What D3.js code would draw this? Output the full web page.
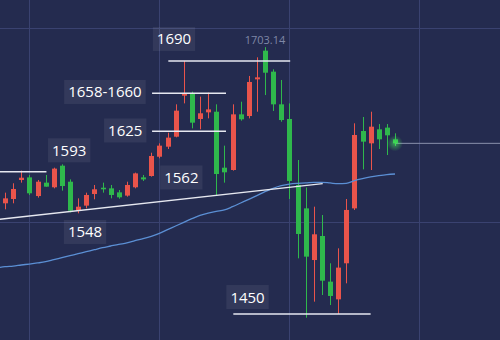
<!DOCTYPE html>
<html>

<head>
    <meta charset="utf-8">
    <style>
        html,
        body {
            margin: 0;
            padding: 0;
            background-color: #242b4f;
        }

        svg {
            display: block;
        }

        .label {
            font-family: 'Open Sans', 'Noto Sans', sans-serif;
            font-size: 15px;
            fill: #ffffff;
        }

        .peak {
            font-family: 'Open Sans', 'Noto Sans', sans-serif;
            font-size: 11px;
            fill: #7f87a6;
        }
    </style>
</head>

<body>
    <svg width="500" height="340"></svg>
</body>

<script src="https://d3js.org/d3.v7.min.js"></script>

<script>
    // candles, read left to right (red = close above open)
    let opens = [1555.0, 1559.1, 1577.1, 1579.6, 1561.9, 1574.6, 1570.2, 1590.7, 1575.5, 1548.0,
        1552.8, 1563.8, 1569.8, 1569.2, 1565.4, 1562.3, 1570.2, 1579.6, 1580.9, 1599.2,
        1608.7, 1618.2, 1657.1, 1659.3, 1635.0, 1641.3, 1641.9, 1588.8, 1586.6, 1639.4,
        1637.8, 1672.6, 1699.8, 1679.9, 1648.9, 1635.0, 1572.4, 1550.2, 1501.2, 1524.0,
        1480.7, 1463.9, 1498.1, 1550.2, 1623.6, 1611.9, 1625.2, 1626.8, 1615.7]
    let highs = [1565.1, 1574.0, 1586.0, 1581.9, 1577.1, 1581.9, 1588.8, 1592.0, 1577.7, 1559.7,
        1565.1, 1572.4, 1574.6, 1572.4, 1567.6, 1575.5, 1584.1, 1581.9, 1603.0, 1611.9,
        1622.0, 1648.9, 1690.0, 1660.9, 1656.2, 1660.0, 1648.9, 1609.7, 1648.9, 1651.4,
        1675.8, 1693.5, 1703.14, 1682.1, 1672.0, 1649.8, 1596.1, 1570.0, 1551.8, 1543.9,
        1498.1, 1512.3, 1559.1, 1630.9, 1636.9, 1641.9, 1630.2, 1630.2, 1621.4]
    let lows = [1549.3, 1555.0, 1574.6, 1562.9, 1560.4, 1570.8, 1569.2, 1567.0, 1546.4, 1545.5,
        1550.2, 1558.8, 1565.1, 1559.7, 1559.4, 1561.3, 1569.2, 1576.2, 1580.3, 1597.7,
        1606.5, 1617.6, 1649.8, 1626.1, 1625.2, 1635.6, 1562.9, 1574.6, 1586.0, 1633.4,
        1635.6, 1641.9, 1657.7, 1642.6, 1632.4, 1559.1, 1502.8, 1446.5, 1461.7, 1468.0,
        1458.5, 1450.0, 1479.1, 1548.7, 1587.2, 1586.6, 1606.5, 1600.8, 1609.4]
    let closes = [1559.7, 1568.6, 1579.3, 1564.5, 1575.5, 1570.8, 1587.9, 1571.4, 1548.0, 1551.8,
        1562.9, 1568.3, 1568.3, 1562.9, 1560.7, 1572.4, 1583.4, 1577.7, 1599.9, 1609.7,
        1617.3, 1642.9, 1659.3, 1631.5, 1640.4, 1644.1, 1582.8, 1584.4, 1639.4, 1634.7,
        1670.1, 1674.5, 1678.9, 1648.9, 1634.0, 1576.2, 1525.9, 1504.4, 1525.6, 1481.6,
        1467.1, 1494.0, 1548.7, 1619.8, 1613.5, 1627.7, 1615.7, 1619.5, 1611.9]

    // moving average, starts one bar before the first visible candle
    let maVals = [1493.6, 1494.9, 1495.5, 1496.5, 1497.4, 1498.4, 1499.6, 1501.5, 1503.4, 1505.3,
        1507.2, 1509.1, 1511.0, 1512.9, 1514.5, 1516.1, 1517.4, 1519.6, 1521.5, 1523.7,
        1526.5, 1530.0, 1533.5, 1537.0, 1540.4, 1543.6, 1545.8, 1547.4, 1548.7, 1551.8,
        1555.3, 1558.8, 1562.3, 1566.0, 1569.2, 1571.7, 1573.3, 1574.0, 1574.3, 1574.9,
        1574.9, 1574.3, 1573.6, 1574.0, 1576.5, 1578.4, 1580.0, 1581.2, 1582.2, 1582.8]

    // horizontal support / resistance lines (bar index from..to)
    let levelPrice = [1585, 1690, 1659.5, 1623.3, 1450]
    let levelFrom = [-0.7, 20.1, 18.1, 18.1, 28.1]
    let levelTo = [5.1, 35.1, 27.2, 27.2, 45.0]

    // rising trend line through two lows
    let trendIdx = [9, 26]
    let trendPrice = [1548, 1562.5]
    let trendSpan = [-0.7, 39.1]

    // annotation boxes
    let labelText = ["1690", "1658-1660", "1625", "1593", "1562", "1548", "1450"]
    let labelIdx = [20.8, 12.3, 14.8, 7.9, 21.7, 9.85, 29.85]
    let labelPrice = [1710.9, 1660.6, 1624.1, 1605.3, 1579.5, 1527.8, 1466.1]

    // chart grid
    let gridIdx = [3, 19, 35, 51]
    let gridPrice = [1537.3, 1721.3]

    let width = 500;
    let height = 340;

    let svg = d3.select("svg")

    let x = d3.scaleLinear().domain([0, 48]).range([5, 395])
    let y = d3.scaleLinear().domain([1450, 1690]).range([314, 61])

    let upColor = "#e9544b"
    let downColor = "#2fb84c"

    let candles = opens.map((o, i) => ({ i: i, o: o, h: highs[i], l: lows[i], c: closes[i] }))

    // grid
    svg.selectAll(".vgrid")
        .data(gridIdx)
        .join("line")
        .attr("x1", d => Math.round(x(d)) + 0.5)
        .attr("x2", d => Math.round(x(d)) + 0.5)
        .attr("y1", 0)
        .attr("y2", height)
        .style("stroke", "#3a4270")
        .style("stroke-width", 1)

    svg.selectAll(".hgrid")
        .data(gridPrice)
        .join("line")
        .attr("x1", 0)
        .attr("x2", width)
        .attr("y1", d => Math.round(y(d)) + 0.5)
        .attr("y2", d => Math.round(y(d)) + 0.5)
        .style("stroke", "#3a4270")
        .style("stroke-width", 1)

    // last price line
    svg.append("line")
        .attr("x1", x(candles.length - 1))
        .attr("x2", width)
        .attr("y1", y(closes[closes.length - 1]))
        .attr("y2", y(closes[closes.length - 1]))
        .style("stroke", "#8a91ad")
        .style("stroke-width", 1)

    // candles
    let bw = 5
    let g = svg.selectAll(".candle")
        .data(candles)
        .join("g")
        .attr("class", "candle")

    g.append("line")
        .attr("x1", d => Math.round(x(d.i)) + 0.5)
        .attr("x2", d => Math.round(x(d.i)) + 0.5)
        .attr("y1", d => y(d.h))
        .attr("y2", d => y(d.l))
        .style("stroke", d => d.c >= d.o ? upColor : downColor)
        .style("stroke-width", 1)

    g.append("rect")
        .attr("x", d => Math.round(x(d.i)) + 0.5 - bw / 2)
        .attr("width", bw)
        .attr("y", d => y(Math.max(d.o, d.c)))
        .attr("height", d => Math.max(1.5, Math.abs(y(d.o) - y(d.c))))
        .style("fill", d => d.c >= d.o ? upColor : downColor)

    // glow on last candle
    let defs = svg.append("defs")
    let grad = defs.append("radialGradient").attr("id", "glow")
    grad.append("stop").attr("offset", "0%").attr("stop-color", "#4cff5e").attr("stop-opacity", 0.55)
    grad.append("stop").attr("offset", "100%").attr("stop-color", "#4cff5e").attr("stop-opacity", 0)

    svg.append("circle")
        .attr("cx", x(candles.length - 1))
        .attr("cy", y(closes[closes.length - 1]))
        .attr("r", 8)
        .style("fill", "url(#glow)")

    // moving average
    let maLine = d3.line()
        .x((d, i) => x(i - 1))
        .y(d => y(d))
        .curve(d3.curveMonotoneX)

    svg.append("path")
        .attr("d", maLine(maVals))
        .style("fill", "none")
        .style("stroke", "#5b8fd4")
        .style("stroke-width", 1.3)

    // trend line
    let slope = (trendPrice[1] - trendPrice[0]) / (trendIdx[1] - trendIdx[0])
    let trendAt = i => trendPrice[0] + (i - trendIdx[0]) * slope

    svg.append("line")
        .attr("x1", x(trendSpan[0]))
        .attr("x2", x(trendSpan[1]))
        .attr("y1", y(trendAt(trendSpan[0])))
        .attr("y2", y(trendAt(trendSpan[1])))
        .style("stroke", "#e6e8f0")
        .style("stroke-width", 1.5)

    // horizontal levels
    svg.selectAll(".level")
        .data(levelPrice)
        .join("line")
        .attr("x1", (d, i) => x(levelFrom[i]))
        .attr("x2", (d, i) => x(levelTo[i]))
        .attr("y1", d => y(d))
        .attr("y2", d => y(d))
        .style("stroke", "#e6e8f0")
        .style("stroke-width", 1.5)

    // peak value
    let peakI = highs.indexOf(d3.max(highs))
    svg.append("text")
        .attr("class", "peak")
        .attr("x", x(peakI))
        .attr("y", y(highs[peakI]) - 3)
        .attr("text-anchor", "middle")
        .text(highs[peakI].toFixed(2))

    // label boxes
    let labels = svg.selectAll(".lab")
        .data(labelText)
        .join("g")
        .attr("transform", (d, i) => "translate(" + x(labelIdx[i]) + "," + y(labelPrice[i]) + ")")

    let boxes = labels.append("rect")
        .style("fill", "#ffffff")
        .style("fill-opacity", 0.07)

    labels.append("text")
        .attr("class", "label")
        .attr("text-anchor", "middle")
        .attr("y", 5.5)
        .text(d => d)

    labels.each(function () {
        let grp = d3.select(this)
        let w = grp.select("text").node().getComputedTextLength()
        grp.select("rect")
            .attr("x", -w / 2 - 4)
            .attr("width", w + 8)
            .attr("y", -12)
            .attr("height", 24)
    })
</script>

</html>
